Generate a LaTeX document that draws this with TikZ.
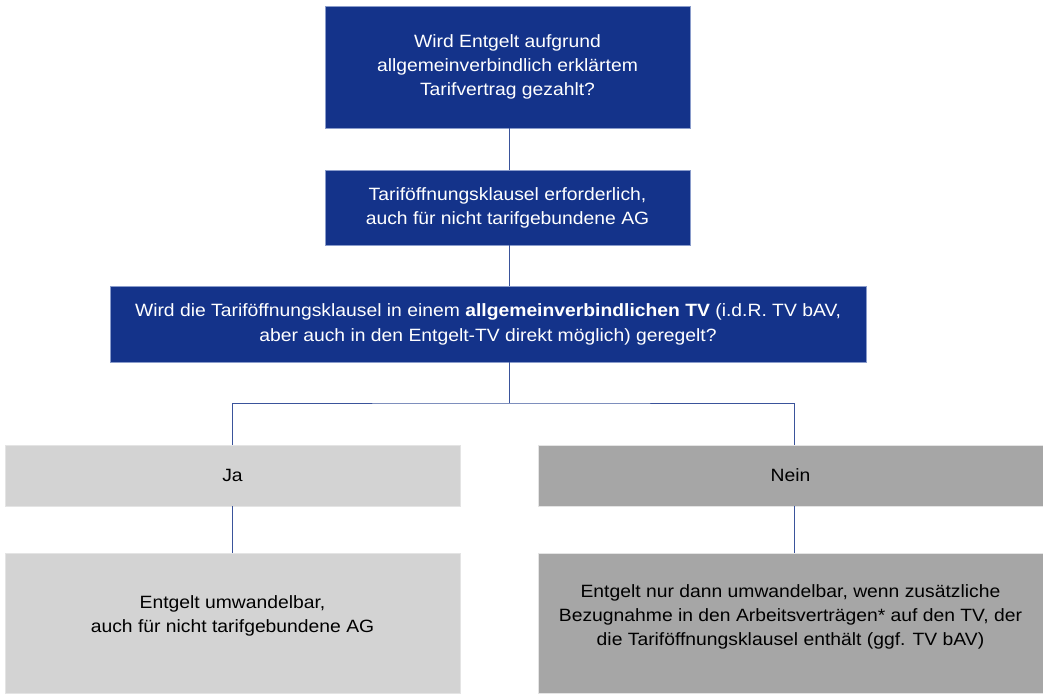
\documentclass[tikz,border=0pt]{standalone}
\usepackage{fontspec}
\setmainfont{Liberation Sans}[FakeStretch=1.085]
\definecolor{dblue}{HTML}{14338A}
\definecolor{bedge}{HTML}{8A9CCB}
\definecolor{lgray}{HTML}{D3D3D3}
\definecolor{mgray}{HTML}{A6A6A6}
\definecolor{gedge}{HTML}{E4E4E4}
\definecolor{lineblue}{HTML}{3A539B}
\tikzset{
  boxbase/.style={line width=0.8pt, align=center, inner sep=0pt,
    font=\fontsize{17.8}{23.8}\selectfont},
  bluebox/.style={boxbase, draw=bedge, fill=dblue, text=white},
  lightbox/.style={boxbase, draw=gedge, fill=lgray, text=black},
  darkbox/.style={boxbase, draw=gedge, fill=mgray, text=black},
  boxtext/.style={align=center, inner sep=0pt, font=\fontsize{17.8}{23.8}\selectfont, text=black},
  conn/.style={draw=lineblue, line width=0.9pt}
}
\begin{document}
\begin{tikzpicture}[x=1pt,y=-1pt]
\useasboundingbox (0,0) rectangle (1043,693);
\fill[white] (0,0) rectangle (1043,693);
\node[bluebox, minimum width=365pt, minimum height=122pt] (q1) at (507.5,67)
  {Wird Entgelt aufgrund\\allgemeinverbindlich erklärtem\\Tarifvertrag gezahlt?};
\node[bluebox, minimum width=365pt, minimum height=75pt] (q2) at (507.5,207.5)
  {Tariföffnungsklausel erforderlich,\\auch für nicht tarifgebundene AG};
\node[bluebox, minimum width=756pt, minimum height=76pt, font=\fontsize{17.8}{25}\selectfont] (q3) at (488,324)
  {Wird die Tariföffnungsklausel in einem \textbf{allgemeinverbindlichen TV} (i.d.R. TV bAV,\\aber auch in den Entgelt-TV direkt möglich) geregelt?};
\node[lightbox, minimum width=455pt, minimum height=61pt] (ja) at (232.5,475.5) {Ja};
\node[darkbox, minimum width=505pt, minimum height=61pt] (nein) at (790.5,475.5) {Nein};
\node[lightbox, minimum width=455pt, minimum height=140pt] (r1) at (232.5,623) {};
\node[boxtext] (r1t) at (232.5,616)
  {Entgelt umwandelbar,\\auch für nicht tarifgebundene AG};
\node[darkbox, minimum width=505pt, minimum height=140pt] (r2) at (790.5,623) {};
\node[boxtext] (r2t) at (790.5,617)
  {Entgelt nur dann umwandelbar, wenn zusätzliche\\Bezugnahme in den Arbeitsverträgen* auf den TV, der\\die Tariföffnungsklausel enthält (ggf. TV bAV)};
\coordinate (j) at (509,403);
\coordinate (jr) at (794,403);
\draw[conn] (q1.south -| j) -- (q2.north -| j);
\draw[conn] (q2.south -| j) -- (q3.north -| j);
\draw[conn] (q3.south -| j) -- (j);
\draw[conn] (ja.north) |- (j) -- (jr) -- (nein.north -| jr);
\draw[conn] (ja.south) -- (r1.north);
\draw[conn] (nein.south -| jr) -- (r2.north -| jr);
\end{tikzpicture}
\end{document}
